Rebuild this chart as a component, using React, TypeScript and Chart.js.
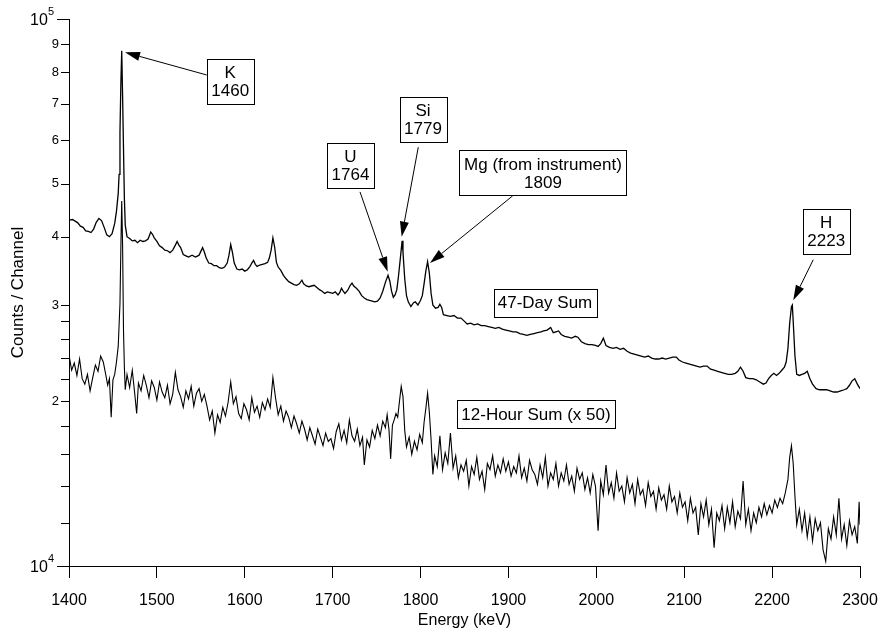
import React, { useEffect, useRef } from 'react';
import { Chart, registerables } from 'chart.js';

Chart.register(...registerables);

const FONT = '"Liberation Sans", Arial, Helvetica, sans-serif';

// ---------- 47-Day Sum spectrum ----------
const dayEnergies = [
  1400, 1404, 1407, 1410, 1413, 1416, 1419, 1422, 1425, 1428, 1431, 1434, 1437, 1440, 1443, 1446, 1449, 1452, 1454, 1456,
  1457, 1458, 1459, 1460, 1461, 1462, 1463, 1464, 1466, 1469, 1472, 1475, 1478, 1481, 1484, 1487, 1490, 1493, 1495, 1497,
  1500, 1503, 1506, 1509, 1512, 1515, 1518, 1521, 1523, 1525, 1527, 1530, 1533, 1536, 1540, 1544, 1548, 1550, 1552, 1554,
  1556, 1559, 1562, 1565, 1568, 1571, 1574, 1577, 1580, 1582, 1584, 1586, 1588, 1591, 1594, 1597, 1600, 1603, 1606, 1608,
  1610, 1612, 1614, 1617, 1620, 1623, 1626, 1628, 1630, 1632, 1634, 1636, 1638, 1641, 1644, 1647, 1650, 1653, 1656, 1659,
  1662, 1665, 1667, 1670, 1673, 1676, 1679, 1682, 1685, 1688, 1691, 1694, 1697, 1700, 1703, 1706, 1708, 1710, 1712, 1714,
  1717, 1720, 1722, 1724, 1727, 1730, 1733, 1736, 1739, 1742, 1745, 1748, 1751, 1754, 1757, 1760, 1763, 1765, 1767, 1769,
  1771, 1773, 1775, 1777, 1779, 1780, 1782, 1784, 1786, 1789, 1792, 1794, 1797, 1800, 1802, 1804, 1806, 1808, 1810, 1812,
  1814, 1817, 1820, 1822, 1824, 1826, 1830, 1834, 1838, 1842, 1846, 1850, 1853, 1857, 1861, 1865, 1869, 1873, 1877, 1881,
  1885, 1889, 1893, 1897, 1901, 1905, 1909, 1913, 1917, 1921, 1925, 1929, 1933, 1937, 1940, 1944, 1948, 1951, 1954, 1957,
  1960, 1964, 1968, 1972, 1976, 1979, 1983, 1987, 1991, 1995, 1999, 2002, 2005, 2008, 2011, 2015, 2019, 2023, 2027, 2031,
  2035, 2039, 2043, 2047, 2051, 2055, 2059, 2063, 2067, 2071, 2075, 2079, 2083, 2087, 2091, 2094, 2098, 2102, 2106, 2110,
  2114, 2118, 2122, 2126, 2130, 2134, 2138, 2142, 2146, 2150, 2154, 2158, 2161, 2164, 2167, 2170, 2174, 2178, 2182, 2186,
  2190, 2193, 2196, 2199, 2202, 2205, 2208, 2211, 2214, 2216, 2218, 2220, 2222, 2223, 2224, 2226, 2228, 2231, 2234, 2237,
  2240, 2243, 2246, 2250, 2254, 2258, 2262, 2266, 2270, 2274, 2278, 2282, 2285, 2288, 2291, 2294, 2297, 2300,
];
const dayCounts = [
  42900, 43000, 42700, 42400, 41800, 41600, 41000, 40900, 40700, 41300, 42500, 43200, 42800, 41600, 40300, 40000, 40500, 42300, 44500, 48000,
  52000, 62000, 76000, 87500, 72000, 58000, 47000, 42000, 40000, 39700, 39300, 39400, 39000, 39400, 39200, 39300, 39600, 40800, 40400, 39800,
  39200, 38500, 38200, 37800, 37700, 37400, 37800, 38600, 39200, 38600, 38200, 37100, 36900, 36700, 37000, 36700, 37000, 37600, 38200, 37500,
  36600, 35800, 35700, 35400, 35400, 35100, 35000, 35200, 35800, 37000, 38700, 37400, 35800, 34900, 34800, 34900, 34600, 34800, 35300, 35800,
  36200, 35600, 35300, 35500, 35600, 35700, 35900, 36600, 37800, 39800, 38300, 35900, 35200, 34700, 34000, 33500, 33100, 32900, 32700, 32600,
  32800, 33300, 32800, 32500, 32400, 32500, 32600, 32300, 32000, 31800, 31500, 31700, 31600, 31500, 31700, 31300, 31600, 32200, 31800, 31500,
  31900, 32600, 32900, 32500, 32200, 31800, 31200, 30900, 30700, 30600, 30500, 30400, 30500, 30900, 31800, 33000, 34000, 33200, 31800, 31000,
  31300, 32000, 34000, 36500, 39300, 37500, 33500, 31200, 30400, 29800, 30300, 30400, 30000, 30600, 31200, 32800, 34600, 36000, 34300, 31500,
  30000, 29600, 29700, 30100, 29700, 28800, 28700, 28600, 28700, 28400, 28400, 28000, 27700, 27800, 27600, 27700, 27500, 27500, 27400, 27300,
  27200, 27300, 27100, 27000, 26900, 26800, 26800, 26600, 26500, 26400, 26500, 26600, 26700, 26800, 26900, 27000, 27300, 26700, 26800, 26900,
  26500, 26300, 26200, 26100, 26300, 26200, 25700, 25500, 25400, 25400, 25300, 25200, 25500, 26100, 25300, 25100, 25000, 25100, 24900, 25000,
  24700, 24500, 24400, 24300, 24200, 24100, 24200, 24000, 23900, 23900, 24000, 23900, 24000, 24100, 24100, 23800, 23600, 23500, 23400, 23300,
  23200, 23100, 23200, 23200, 22900, 22800, 22700, 22600, 22500, 22400, 22400, 22500, 22700, 23100, 22700, 22100, 22000, 22000, 21900, 21700,
  21500, 21600, 22000, 22300, 22500, 22300, 22500, 22800, 23100, 23600, 25000, 27800, 29800, 30000, 28000, 24200, 22400, 22300, 22400, 22500,
  22700, 22000, 21500, 21100, 21000, 21000, 21000, 20900, 20800, 20800, 20900, 21000, 21100, 21400, 21800, 22000, 21500, 21100,
];

// ---------- 12-Hour Sum (x 50) spectrum ----------
const hourEnergies = [
  1400, 1403, 1406, 1409, 1412, 1415, 1418, 1421, 1424, 1427, 1430, 1433, 1436, 1439, 1442, 1444, 1446, 1448, 1450, 1452,
  1454, 1456, 1458, 1459, 1460, 1461, 1462, 1463, 1464, 1466, 1469, 1472, 1475, 1477, 1479, 1482, 1485, 1488, 1491, 1494,
  1497, 1500, 1503, 1506, 1509, 1512, 1515, 1518, 1521, 1524, 1527, 1530, 1533, 1536, 1539, 1542, 1545, 1548, 1551, 1554,
  1557, 1560, 1563, 1566, 1569, 1572, 1575, 1578, 1581, 1584, 1587, 1590, 1593, 1596, 1599, 1602, 1605, 1608, 1611, 1614,
  1617, 1620, 1623, 1626, 1629, 1632, 1635, 1638, 1641, 1644, 1647, 1650, 1653, 1656, 1659, 1662, 1665, 1668, 1671, 1674,
  1677, 1680, 1683, 1686, 1689, 1692, 1695, 1698, 1701, 1704, 1707, 1710, 1713, 1716, 1719, 1722, 1725, 1728, 1731, 1734,
  1736, 1739, 1742, 1745, 1748, 1751, 1754, 1757, 1760, 1762, 1764, 1766, 1768, 1770, 1772, 1774, 1776, 1778, 1780, 1782,
  1784, 1787, 1790, 1793, 1796, 1799, 1802, 1804, 1806, 1808, 1810, 1812, 1814, 1816, 1819, 1822, 1825, 1828, 1831, 1834,
  1837, 1840, 1843, 1846, 1849, 1852, 1855, 1858, 1861, 1864, 1867, 1870, 1873, 1876, 1879, 1882, 1885, 1888, 1891, 1894,
  1897, 1900, 1903, 1906, 1909, 1912, 1915, 1918, 1921, 1924, 1927, 1930, 1933, 1936, 1939, 1942, 1945, 1948, 1951, 1954,
  1957, 1960, 1963, 1966, 1969, 1972, 1975, 1978, 1981, 1984, 1987, 1990, 1993, 1996, 1999, 2002, 2005, 2008, 2011, 2014,
  2017, 2020, 2023, 2026, 2029, 2032, 2035, 2038, 2041, 2044, 2047, 2050, 2053, 2056, 2059, 2062, 2065, 2068, 2071, 2074,
  2077, 2080, 2083, 2086, 2089, 2092, 2095, 2098, 2101, 2104, 2107, 2110, 2113, 2116, 2119, 2122, 2125, 2128, 2131, 2134,
  2137, 2140, 2143, 2146, 2149, 2152, 2155, 2158, 2161, 2164, 2167, 2170, 2173, 2176, 2179, 2182, 2185, 2188, 2191, 2194,
  2197, 2200, 2203, 2206, 2209, 2212, 2215, 2218, 2220, 2222, 2224, 2226, 2228, 2231, 2234, 2237, 2240, 2243, 2246, 2249,
  2252, 2255, 2258, 2261, 2264, 2267, 2270, 2273, 2276, 2279, 2282, 2285, 2288, 2291, 2294, 2297, 2299, 2300,
];
const hourCounts = [
  24300, 22800, 23500, 22300, 23900, 22000, 21500, 22400, 20900, 22100, 23300, 22700, 24200, 23600, 22300, 21400, 22000, 18700, 21900, 22400,
  23600, 25200, 30200, 38000, 46500, 38400, 27000, 23100, 21000, 22400, 21200, 22800, 20500, 19000, 21600, 20900, 22300, 21400, 20300, 21800,
  21200, 20100, 21700, 20800, 20300, 21400, 19800, 20600, 22600, 21000, 20400, 19500, 20900, 20200, 21300, 19600, 20700, 21100, 20000, 20600,
  19600, 18500, 19200, 17500, 18900, 18300, 19500, 18800, 19900, 21700, 19800, 20400, 19000, 18600, 19800, 19300, 18500, 20300, 19100, 19600,
  18700, 19900, 19300, 20200, 19500, 22100, 20300, 18900, 19600, 18400, 19200, 18700, 17900, 18800, 18200, 17500, 18400, 17800, 17000, 17900,
  17300, 16700, 17800, 17200, 16600, 17500, 16900, 17100, 16400, 17600, 18200, 17000, 17700, 16800, 18500, 17300, 16900, 17800, 16600, 17200,
  15300, 17000, 16500, 17700, 17100, 18100, 17300, 18400, 17900, 18900, 17800, 15700, 18100, 18500, 19000, 18700, 20000, 21300, 20400, 17700,
  16500, 17200, 16000, 16900, 16300, 17400, 16800, 18300, 19400, 20700, 19100, 17000, 14700, 15900, 15200, 17300, 15000, 16100, 15400, 17500,
  15100, 15900, 14500, 15300, 14900, 15600, 14000, 15200, 14700, 15800, 14400, 14900, 13800, 15400, 15000, 15900, 14600, 15300, 14800, 15700,
  14900, 15500, 14600, 15200, 14800, 15900, 14500, 15100, 14300, 15600, 15000, 14700, 14100, 15300, 14500, 15800, 14000, 14800, 14400, 15400,
  14000, 14800, 14300, 15300, 14100, 14600, 13700, 15100, 14400, 14800, 13800, 14500, 13600, 14700, 14000, 11600, 14300, 13500, 15300, 13600,
  14200, 13300, 14800, 13700, 14000, 13100, 14500, 13600, 14100, 13000, 14400, 13500, 13800, 12900, 14200, 13400, 13700, 12700, 13900, 13200,
  13500, 12700, 14000, 13100, 13400, 12500, 13600, 12800, 13100, 12100, 13300, 12500, 12800, 11400, 13000, 12300, 13200, 11900, 12700, 10800,
  12500, 12100, 12900, 11700, 12800, 12000, 13100, 11800, 12600, 12200, 14300, 11900, 12700, 11600, 12500, 12000, 12800, 12300, 13000, 12400,
  12900, 12500, 13200, 12800, 13300, 13000, 13600, 14400, 15800, 16600, 15400, 13400, 11900, 12700, 11600, 12500, 11300, 12300, 11100, 12200,
  11600, 12000, 10700, 10200, 11700, 11200, 12300, 11400, 13300, 11200, 11900, 10900, 12100, 11400, 11800, 11000, 13100, 11900,
];

// ---------- axes ----------
const xTickValues = [1400, 1500, 1600, 1700, 1800, 1900, 2000, 2100, 2200, 2300];
const yTickValues = [
  10000, 12000, 14000, 16000, 18000, 20000, 22000, 24000, 26000, 28000,
  30000, 40000, 50000, 60000, 70000, 80000, 90000, 100000,
];
const yTickLabels = ['10^4', '', '', '', '', '2', '', '', '', '', '3', '4', '5', '6', '7', '8', '9', '10^5'];

// ---------- annotations (anchored in data space: [energy keV, counts]) ----------
const annotations = [
  { lines: ['K', '1460'], center: [1583.5, 77000], tail: [1556.7, 79000], tip: [1463.7, 86900] },
  { lines: ['U', '1764'], center: [1720.3, 54000], tail: [1731.1, 48300], tip: [1762.6, 34500] },
  { lines: ['Si', '1779'], center: [1802.8, 65500], tail: [1797.4, 58300], tip: [1778.5, 40000] },
  { lines: ['Mg (from instrument)', '1809'], center: [1939.3, 52300], tail: [1904.8, 47500], tip: [1810.7, 35800] },
  { lines: ['H', '2223'], center: [2261.6, 40900], tail: [2246.8, 36300], tip: [2224.1, 30600] },
  { lines: ['47-Day Sum'], center: [1941.6, 30300] },
  { lines: ['12-Hour Sum (x 50)'], center: [1931.3, 18960] },
];

const ANNOT_FONT = `17px ${FONT}`;

const overlayPlugin = {
  id: 'overlay',
  afterDatasetsDraw(chart: any) {
    const { ctx, scales } = chart;
    const xs = scales.x;
    const ys = scales.y;
    ctx.save();
    ctx.font = ANNOT_FONT;
    ctx.lineWidth = 1;
    ctx.strokeStyle = '#000';
    ctx.fillStyle = '#000';
    for (const a of annotations as any[]) {
      if (a.tail && a.tip) {
        const tx = xs.getPixelForValue(a.tail[0]);
        const ty = ys.getPixelForValue(a.tail[1]);
        const px = xs.getPixelForValue(a.tip[0]);
        const py = ys.getPixelForValue(a.tip[1]);
        const ang = Math.atan2(py - ty, px - tx);
        const L = 15;
        const W = 4.5;
        const bx = px - L * Math.cos(ang);
        const by = py - L * Math.sin(ang);
        ctx.beginPath();
        ctx.moveTo(tx, ty);
        ctx.lineTo(bx, by);
        ctx.stroke();
        ctx.beginPath();
        ctx.moveTo(px, py);
        ctx.lineTo(bx - W * Math.sin(ang), by + W * Math.cos(ang));
        ctx.lineTo(bx + W * Math.sin(ang), by - W * Math.cos(ang));
        ctx.closePath();
        ctx.fill();
      }
      const cx = xs.getPixelForValue(a.center[0]);
      const cy = ys.getPixelForValue(a.center[1]);
      const widths = a.lines.map((t: string) => ctx.measureText(t).width);
      const w = Math.round(Math.max(...widths) + 9);
      const h = a.lines.length === 2 ? 45 : 28;
      const left = Math.round(cx - w / 2) + 0.5;
      const top = Math.round(cy - h / 2) + 0.5;
      ctx.fillStyle = '#fff';
      ctx.fillRect(left, top, w, h);
      ctx.strokeRect(left, top, w, h);
      ctx.fillStyle = '#000';
      ctx.textAlign = 'center';
      ctx.textBaseline = 'middle';
      const n = a.lines.length;
      a.lines.forEach((t: string, i: number) => {
        ctx.fillText(t, cx, cy + 1 + (i - (n - 1) / 2) * 18);
      });
    }
    ctx.restore();
  },
  afterDraw(chart: any) {
    const { ctx, scales } = chart;
    const ys = scales.y;
    const axisX = chart.chartArea.left;
    ctx.save();
    ctx.strokeStyle = '#000';
    ctx.fillStyle = '#000';
    ctx.lineWidth = 1;
    yTickValues.forEach((v, i) => {
      const y = Math.round(ys.getPixelForValue(v)) + 0.5;
      const lab = yTickLabels[i];
      const decade = lab.indexOf('^') >= 0;
      const len = decade ? 12 : 8;
      ctx.beginPath();
      ctx.moveTo(axisX - len, y);
      ctx.lineTo(axisX, y);
      ctx.stroke();
      if (decade) {
        const [base, exp] = lab.split('^');
        const right = axisX - len - 3;
        ctx.font = `11px ${FONT}`;
        const ew = ctx.measureText(exp).width;
        ctx.textAlign = 'left';
        ctx.textBaseline = 'middle';
        ctx.fillText(exp, right - ew, y - 8);
        ctx.font = `16px ${FONT}`;
        ctx.textAlign = 'right';
        ctx.fillText(base, right - ew, y + 1);
      }
    });
    ctx.restore();
  },
};

export default function App() {
  const canvasRef = useRef<HTMLCanvasElement | null>(null);

  useEffect(() => {
    const canvas = canvasRef.current;
    if (!canvas) return;
    Chart.defaults.font.family = FONT;
    Chart.defaults.color = '#000';
    const chart = new Chart(canvas, {
      type: 'line',
      data: {
        datasets: [
          {
            label: '47-Day Sum',
            data: dayEnergies.map((e, i) => ({ x: e, y: dayCounts[i] })),
            borderColor: '#000',
            borderWidth: 1.3,
            pointRadius: 0,
            tension: 0,
            fill: false,
          },
          {
            label: '12-Hour Sum (x 50)',
            data: hourEnergies.map((e, i) => ({ x: e, y: hourCounts[i] })),
            borderColor: '#000',
            borderWidth: 1.1,
            pointRadius: 0,
            tension: 0,
            fill: false,
          },
        ],
      },
      options: {
        responsive: false,
        animation: false,
        devicePixelRatio: 1,
        layout: { padding: { left: 0, top: 19, right: 23, bottom: 0 } },
        plugins: {
          legend: { display: false },
          tooltip: { enabled: false },
        },
        scales: {
          x: {
            type: 'linear',
            min: 1400,
            max: 2300,
            afterBuildTicks: (s: any) => {
              s.ticks = xTickValues.map((v) => ({ value: v }));
            },
            afterFit: (s: any) => {
              s.height = 68;
              s.paddingRight = 0;
              s.paddingLeft = 0;
            },
            ticks: {
              autoSkip: false,
              maxRotation: 0,
              padding: 13,
              color: '#000',
              font: { family: FONT, size: 16 },
              callback: (v: any) => String(v),
            },
            grid: {
              display: true,
              drawOnChartArea: false,
              drawTicks: true,
              tickLength: 12,
              tickColor: '#000',
              tickWidth: 1,
            },
            border: { display: true, color: '#000', width: 1 },
            title: {
              display: true,
              text: 'Energy (keV)',
              color: '#000',
              font: { family: FONT, size: 16 },
              padding: { top: 0, bottom: 4 },
            },
          },
          y: {
            type: 'logarithmic',
            min: 10000,
            max: 100000,
            afterBuildTicks: (s: any) => {
              s.ticks = yTickValues.map((v) => ({ value: v }));
            },
            afterFit: (s: any) => {
              s.width = 69;
            },
            ticks: {
              autoSkip: false,
              padding: 10,
              color: '#000',
              font: { family: FONT, size: 13 },
              callback: (v: any) => {
                const i = yTickValues.indexOf(Number(v));
                const lab = i >= 0 ? yTickLabels[i] : '';
                return lab.indexOf('^') >= 0 ? '' : lab;
              },
            },
            grid: { display: false, drawTicks: false, drawOnChartArea: false },
            border: { display: true, color: '#000', width: 1 },
            title: {
              display: true,
              text: 'Counts / Channel',
              color: '#000',
              font: { family: FONT, size: 17 },
              padding: { top: 8, bottom: 0 },
            },
          },
        },
      } as any,
      plugins: [overlayPlugin],
    });
    return () => {
      chart.destroy();
    };
  }, []);

  return (
    <div style={{ position: 'fixed', left: 0, top: 0, width: 883, height: 634, background: '#fff' }}>
      <canvas ref={canvasRef} width={883} height={634} style={{ display: 'block', width: 883, height: 634 }} />
    </div>
  );
}
